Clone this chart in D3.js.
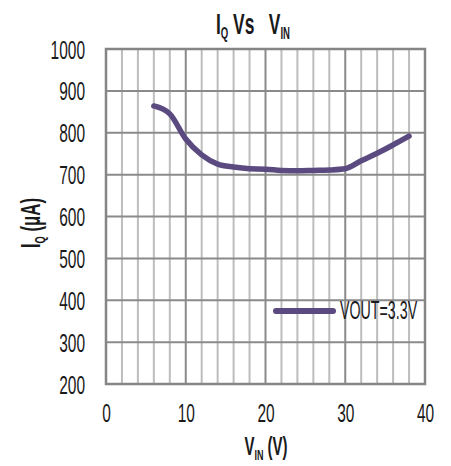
<!DOCTYPE html>
<html><head><meta charset="utf-8">
<script src="https://cdn.jsdelivr.net/npm/d3@7"></script>
<style>body{margin:0;background:#fff}svg{display:block}</style>
</head><body>
<script>
const vin = [6, 8, 10, 12, 14, 16, 18, 20, 22, 24, 26, 28, 30, 32, 34, 36, 38];
const iq  = [864, 845, 785, 747, 725, 718, 714, 713, 710, 709, 710, 711, 714, 733, 751, 771, 792];
const xTicks = [0, 10, 20, 30, 40];
const yTicks = [200, 300, 400, 500, 600, 700, 800, 900, 1000];
const xMinor = d3.range(0, 41, 2);
const seriesName = "VOUT=3.3V";

const W = 451, H = 466;
const m = {l: 106, r: 26, t: 49, b: 82};
const svg = d3.select("body").append("svg").attr("width", W).attr("height", H);
const x = d3.scaleLinear().domain([0, 40]).range([m.l, W - m.r]);
const y = d3.scaleLinear().domain([200, 1000]).range([H - m.b, m.t]);
const FONT = "'Liberation Sans', Arial, sans-serif";
const SX = 0.62;
const TXT = "#1a1a1a";

// grid
const g = svg.append("g");
g.selectAll(".vmin").data(xMinor.filter(d => d % 10 !== 0)).join("line")
  .attr("x1", d => x(d)).attr("x2", d => x(d)).attr("y1", y(200)).attr("y2", y(1000))
  .attr("stroke", "#bdbdbd").attr("stroke-width", 2);
g.selectAll(".vmaj").data(xTicks).join("line")
  .attr("x1", d => x(d)).attr("x2", d => x(d)).attr("y1", y(200)).attr("y2", y(1000))
  .attr("stroke", "#8a8a8a").attr("stroke-width", 2);
g.selectAll(".h").data(yTicks).join("line")
  .attr("x1", x(0)).attr("x2", x(40)).attr("y1", d => y(d)).attr("y2", d => y(d))
  .attr("stroke", "#8a8a8a").attr("stroke-width", 2);
g.append("rect").attr("x", x(0)).attr("y", y(1000)).attr("width", x(40) - x(0)).attr("height", y(200) - y(1000))
  .attr("fill", "none").attr("stroke", "#858585").attr("stroke-width", 2.5);

// axes
const ax = svg.append("g").attr("transform", `translate(0,${y(200)})`)
  .call(d3.axisBottom(x).tickValues(xTicks).tickSize(0).tickFormat(d3.format("d")));
ax.select(".domain").remove();
ax.selectAll("text").attr("font-family", FONT).attr("font-size", 25).attr("fill", TXT)
  .attr("y", 0).attr("dy", 0).attr("transform", `translate(0,38) scale(${SX},1)`);

const ay = svg.append("g").attr("transform", `translate(${x(0)},0)`)
  .call(d3.axisLeft(y).tickValues(yTicks).tickSize(0).tickFormat(d3.format("d")));
ay.select(".domain").remove();
ay.selectAll("text").attr("font-family", FONT).attr("font-size", 25).attr("fill", TXT)
  .attr("x", 0).attr("dy", 0).attr("transform", `translate(-21,9) scale(${SX},1)`);

// line
const line = d3.line().x((d, i) => x(vin[i])).y(d => y(d)).curve(d3.curveMonotoneX);
svg.append("path").attr("d", line(iq)).attr("fill", "none")
  .attr("stroke", "#5a4a80").attr("stroke-width", 5.5).attr("stroke-linecap", "round").attr("stroke-linejoin", "round");

// legend
svg.append("line").attr("x1", 276).attr("x2", 333).attr("y1", 311).attr("y2", 311)
  .attr("stroke", "#5a4a80").attr("stroke-width", 6).attr("stroke-linecap", "round");
svg.append("text").attr("transform", `translate(340,319) scale(0.57,1)`)
  .attr("font-family", FONT).attr("font-size", 25).attr("fill", TXT).text(seriesName);

// title
const title = svg.append("text").attr("transform", `translate(253,34) scale(0.58,1)`)
  .attr("text-anchor", "middle").attr("font-family", FONT).attr("font-weight", "bold")
  .attr("font-size", 30).attr("fill", TXT);
title.append("tspan").text("I");
title.append("tspan").attr("font-size", "0.55em").attr("dy", "0.3em").text("Q");
title.append("tspan").attr("dy", "-0.18em").text(" Vs\u00a0\u00a0\u00a0V");
title.append("tspan").attr("font-size", "0.55em").attr("dy", "0.3em").text("IN");

// x label
const xl = svg.append("text").attr("transform", `translate(266,455) scale(0.6,1)`)
  .attr("text-anchor", "middle").attr("font-family", FONT).attr("font-weight", "bold")
  .attr("font-size", 25).attr("fill", TXT);
xl.append("tspan").text("V");
xl.append("tspan").attr("font-size", "0.6em").attr("dy", "0.3em").text("IN");
xl.append("tspan").attr("dy", "-0.18em").text("\u00a0(V)");

// y label
const yl = svg.append("text").attr("transform", `translate(40,223) rotate(-90) scale(0.6,1)`)
  .attr("text-anchor", "middle").attr("font-family", FONT).attr("font-weight", "bold")
  .attr("font-size", 28).attr("fill", TXT);
yl.append("tspan").text("I");
yl.append("tspan").attr("font-size", "0.55em").attr("dy", "0.3em").text("Q");
yl.append("tspan").attr("dy", "-0.18em").text("\u00a0(\u03bcA)");
</script>
</body></html>
